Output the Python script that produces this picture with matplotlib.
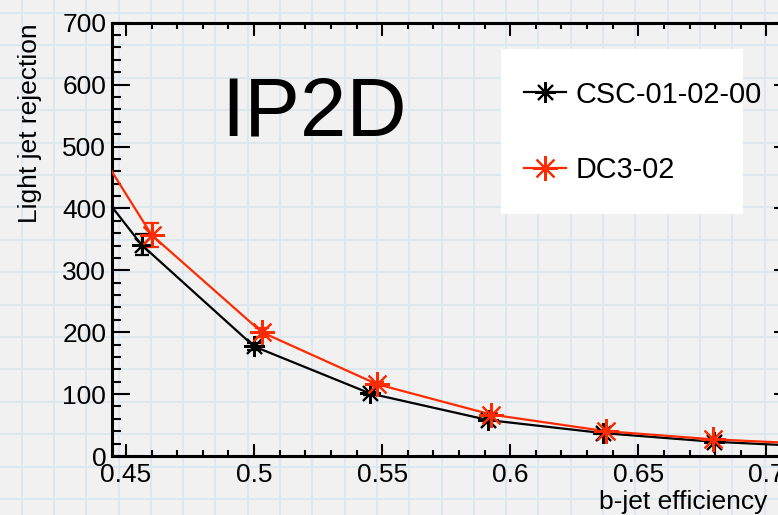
import numpy as np
import matplotlib
matplotlib.use("Agg")
import matplotlib.pyplot as plt
from matplotlib.patches import Rectangle

plt.rcParams["font.family"] = ["Liberation Sans", "DejaVu Sans"]

# b-jet efficiency / light jet rejection
eff_csc = [0.4561, 0.5000, 0.5453, 0.5915, 0.6362, 0.6794]
rej_csc = [341, 177, 101, 58, 37, 23]
err_csc = [17, 6, 3, 2, 1, 1]
eff_dc3 = [0.4600, 0.5030, 0.5480, 0.5925, 0.6375, 0.6790]
rej_dc3 = [357, 200, 116, 67, 40, 27]
err_dc3 = [19, 7, 3, 2, 1, 1]
# where the curves leave the frame
edge_x = [0.4444, 0.7100]
edge_csc = [403, 17]
edge_dc3 = [460, 21]

labels = ["CSC-01-02-00", "DC3-02"]
colors = ["black", "#ff2a00"]

W, H = 778, 515
fig = plt.figure(figsize=(W / 100, H / 100), dpi=100)
fig.patch.set_facecolor("#f1f1f1")

# graph-paper background
bg = fig.add_axes([0, 0, 1, 1], zorder=-5)
bg.set_xlim(0, W); bg.set_ylim(H, 0); bg.axis("off")
for gx in np.arange(21.7, W, 32.3):
    bg.axvline(gx, color="#dbe8ee", lw=1.3)
for gy in np.arange(13, H, 32.4):
    bg.axhline(gy, color="#dbe8ee", lw=1.3)

x0, y0 = 111.7, 456
ax = fig.add_axes([x0 / W, (H - y0) / H, (792 - x0) / W, (y0 - 22.7) / H])
ax.set_facecolor("none")
ax.set_xlim(0.4444, 0.71)
ax.set_ylim(0, 700)

series = [(eff_csc, rej_csc, err_csc, edge_csc, 15),
          (eff_dc3, rej_dc3, err_dc3, edge_dc3, 18)]
handles = []
for (ex, ry, er, edge, ms), c, lab in zip(series, colors, labels):
    xs = [edge_x[0]] + ex + [edge_x[1]]
    ys = [edge[0]] + ry + [edge[1]]
    ax.plot(xs, ys, color=c, lw=1.6, zorder=3)
    ax.errorbar(ex, ry, yerr=er, fmt="none", ecolor=c, elinewidth=1.6,
                capsize=5, capthick=1.6, zorder=4)
    ax.plot(ex, ry, ls="none", marker=(8, 2, 0), ms=ms, mew=1.5,
            color=c, zorder=5)
    handles.append(ax.plot([], [], color=c, lw=1.6, marker=(8, 2, 0),
                           ms=ms, mew=1.5)[0])

ax.set_xticks(np.arange(0.45, 0.701, 0.05))
ax.set_xticklabels(["0.45", "0.5", "0.55", "0.6", "0.65", "0.7"])
ax.set_xticks(np.arange(0.45, 0.711, 0.01), minor=True)
ax.set_yticks(np.arange(0, 701, 100))
ax.set_yticks(np.arange(0, 701, 20), minor=True)
ax.tick_params(axis="both", which="both", direction="in", top=True, right=True,
               labelsize=19, width=1.5, colors="black")
ax.tick_params(axis="y", which="major", length=13, pad=4)
ax.tick_params(axis="y", which="minor", length=6.5)
ax.tick_params(axis="x", which="major", length=9, pad=5)
ax.tick_params(axis="x", which="minor", length=4.5)
for s in ax.spines.values():
    s.set_linewidth(2.2)

fig.text(30 / W, 1 - 23 / H, "Light jet rejection", rotation=90,
         ha="center", va="top", fontsize=19)
fig.text(767 / W, 1 - 509 / H, "b-jet efficiency", ha="right",
         va="baseline", fontsize=19)
fig.text(221 / W, 1 - 135 / H, "IP2D", ha="left", va="baseline",
         fontsize=60)

# legend box
fig.patches.append(Rectangle((501 / W, 1 - 214 / H), 242 / W, 165 / H,
                             transform=fig.transFigure, facecolor="white",
                             edgecolor="none", zorder=1))
leg = fig.legend(handles, labels, loc="center left",
                 bbox_to_anchor=(510 / W, 1 - 132.4 / H),
                 frameon=False, fontsize=20.8, borderpad=0,
                 handlelength=1.45, handletextpad=0.31, labelspacing=1.65)
leg.set_zorder(6)

fig.savefig("out.png", dpi=100)
